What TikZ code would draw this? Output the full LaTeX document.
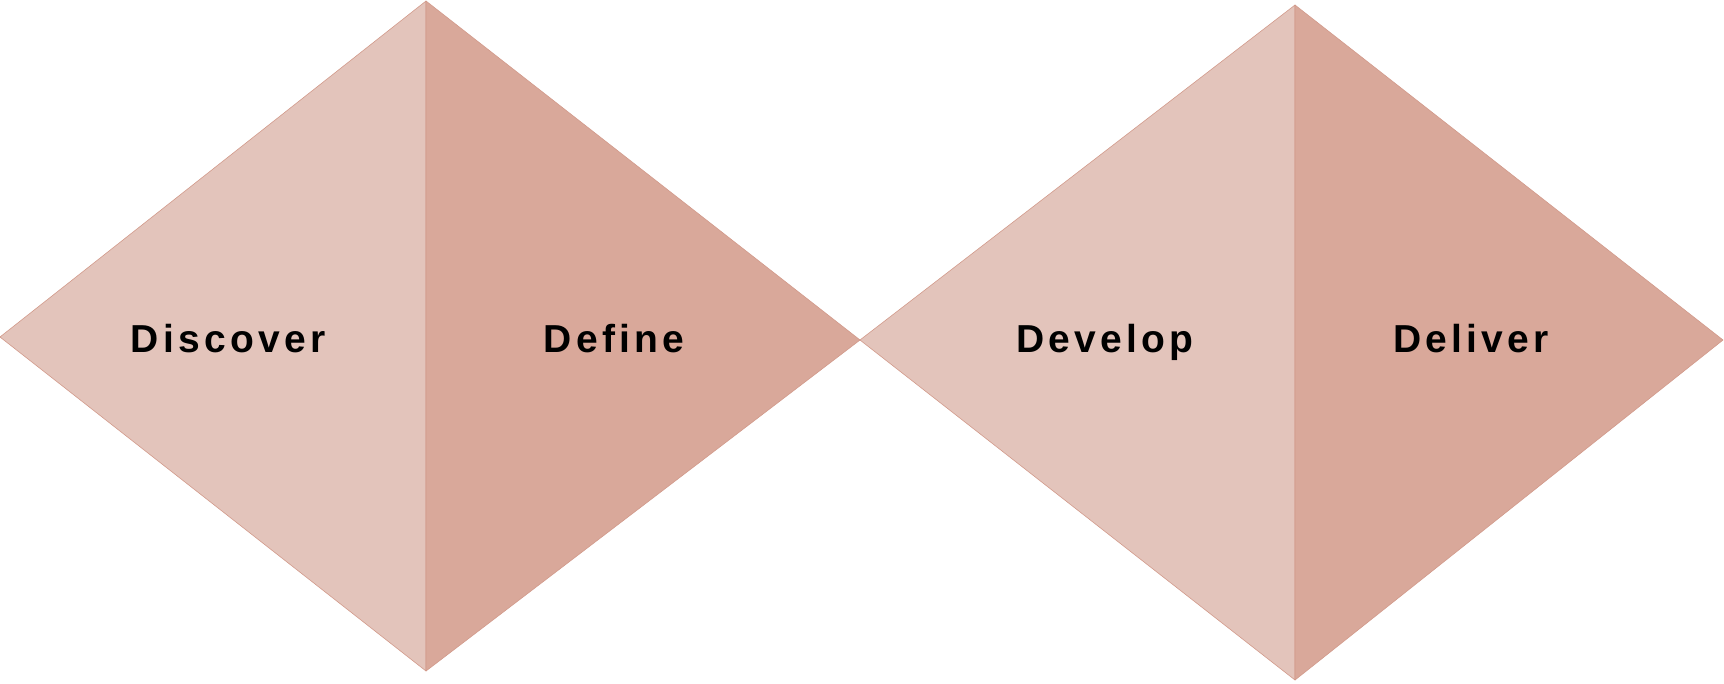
\documentclass[tikz,border=0pt]{standalone}
\usepackage{fontspec}
\setmainfont{Liberation Sans}
\usetikzlibrary{positioning,calc}
\definecolor{lightrose}{HTML}{E3C4BB}
\definecolor{darkrose}{HTML}{D9A89A}
\definecolor{edgerose}{HTML}{D29A8B}
\tikzstyle{lighthalf}=[fill=lightrose, draw=edgerose, line width=0.6pt, line join=round]
\tikzstyle{darkhalf}=[fill=darkrose, draw=edgerose, line width=0.6pt, line join=round]
\tikzstyle{phase}=[font=\fontsize{39}{39}\selectfont\bfseries\addfontfeature{LetterSpace=11}, text=black, anchor=base, inner sep=0pt]

\begin{document}
\begin{tikzpicture}[x=1pt, y=-1pt]

        \useasboundingbox (0,0) rectangle (1724,683);

        % Corners
        \coordinate (d1left) at (0,337);
        \coordinate (d1top) at (426,1);
        \coordinate (d1bot) at (426,671);
        \coordinate (mid) at (860,340);
        \coordinate (d2top) at (1295,5);
        \coordinate (d2bot) at (1295,680);
        \coordinate (d2right) at (1723,340);

        % First diamond
        \draw[lighthalf] (d1left) -- (d1top) -- (d1bot) -- cycle;
        \draw[darkhalf] (d1top) -- (mid) -- (d1bot) -- cycle;

        % Second diamond
        \draw[lighthalf] (mid) -- (d2top) -- (d2bot) -- cycle;
        \draw[darkhalf] (d2top) -- (d2right) -- (d2bot) -- cycle;

        % Phases
        \node (discover) [phase] at (228,352) {Discover};
        \node (define) [phase] at (614,352) {Define};
        \node (develop) [phase] at (1105,352) {Develop};
        \node (deliver) [phase] at (1471,352) {Deliver};

\end{tikzpicture}
\end{document}
